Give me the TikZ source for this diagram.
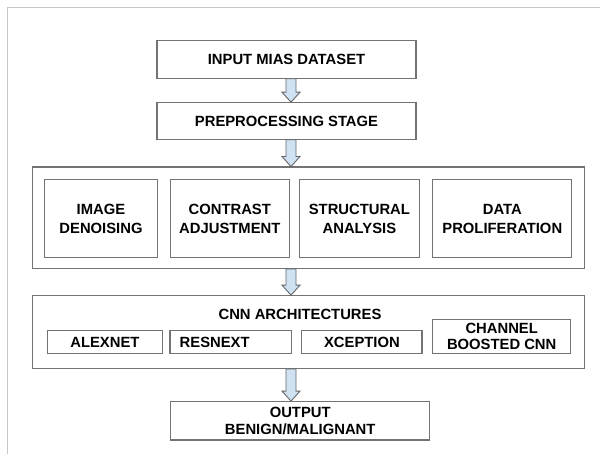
\documentclass[tikz,border=0pt]{standalone}
\usepackage{fontspec}
\setmainfont{Liberation Sans}
\usetikzlibrary{calc}
\definecolor{arrowblue}{RGB}{207,226,243}
\tikzset{
  box/.style={draw=black!55, line width=1.1pt, fill=white, inner sep=0pt, align=center,
    font=\fontsize{14.8}{19}\selectfont\bfseries},
  tightbox/.style={box, font=\fontsize{14.8}{16.5}\selectfont\bfseries},
  outerbox/.style={draw=black!55, line width=1.1pt, inner sep=0pt},
  blockarr/.style={draw=black!60, fill=arrowblue, line width=0.9pt, line join=miter},
  frameline/.style={draw=black!22, line width=1.3pt},
  lbl/.style={inner sep=0pt, font=\fontsize{14.8}{19}\selectfont\bfseries}
}
\newcommand\blockarrow[2]{%
  \draw[blockarr] let \p1=(ax |- #1.south), \p2=(ax |- #2.north) in
    (\x1-5pt,\y1) -- (\x1-5pt,\y2+10pt) -- (\x1-9pt,\y2+10pt) -- (\x1,\y2)
    -- (\x1+9pt,\y2+10pt) -- (\x1+5pt,\y2+10pt) -- (\x1+5pt,\y1) -- cycle;}
\begin{document}
\begin{tikzpicture}[x=1pt,y=-1pt]
\useasboundingbox (0,0) rectangle (600,454);
\draw[frameline] (7.3,454) -- (7.3,7.3) -- (600,7.3);
\coordinate (ax) at (291,0);
% top boxes
\node[box, minimum width=259pt, minimum height=38pt] (b1) at (286.5,59.2) {INPUT MIAS DATASET};
\node[box, minimum width=259pt, minimum height=36.5pt] (b2) at (286.5,121) {PREPROCESSING STAGE};
% preprocessing group
\node[outerbox, minimum width=551.7pt, minimum height=101.3pt] (pre) at (308.5,217.7) {};
\node[box, minimum width=113pt, minimum height=77.7pt] (i1) at (101,218.6) {IMAGE\\DENOISING};
\node[box, minimum width=119.5pt, minimum height=77.7pt] (i2) at (229.8,218.6) {CONTRAST\\ADJUSTMENT};
\node[box, minimum width=119.8pt, minimum height=77.7pt] (i3) at (359.4,218.6) {STRUCTURAL\\ANALYSIS};
\node[box, minimum width=139pt, minimum height=77.7pt] (i4) at (502.3,218.6) {DATA\\PROLIFERATION};
% CNN group
\node[outerbox, minimum width=551.7pt, minimum height=72.6pt] (cnn) at (308.5,332) {};
\node[lbl] (cnnt) at (300,314.9) {CNN ARCHITECTURES};
\node[box, minimum width=114.3pt, minimum height=22.6pt] (a1) at (104.9,342) {ALEXNET};
\node[box, minimum width=121.4pt, minimum height=22.6pt, text width=102pt, align=left, inner xsep=9.7pt] (a2) at (230.7,342) {RESNEXT};
\node[box, minimum width=120.2pt, minimum height=22.6pt] (a3) at (361.9,342) {XCEPTION};
\node[tightbox, minimum width=137.7pt, minimum height=34pt] (a4) at (501.7,336.3) {CHANNEL\\BOOSTED CNN};
% output
\node[tightbox, minimum width=259pt, minimum height=38.3pt] (out) at (300.2,420.8) {OUTPUT\\BENIGN/MALIGNANT};
% arrows
\blockarrow{b1}{b2}
\blockarrow{b2}{pre}
\blockarrow{pre}{cnn}
\blockarrow{cnn}{out}
\end{tikzpicture}
\end{document}
